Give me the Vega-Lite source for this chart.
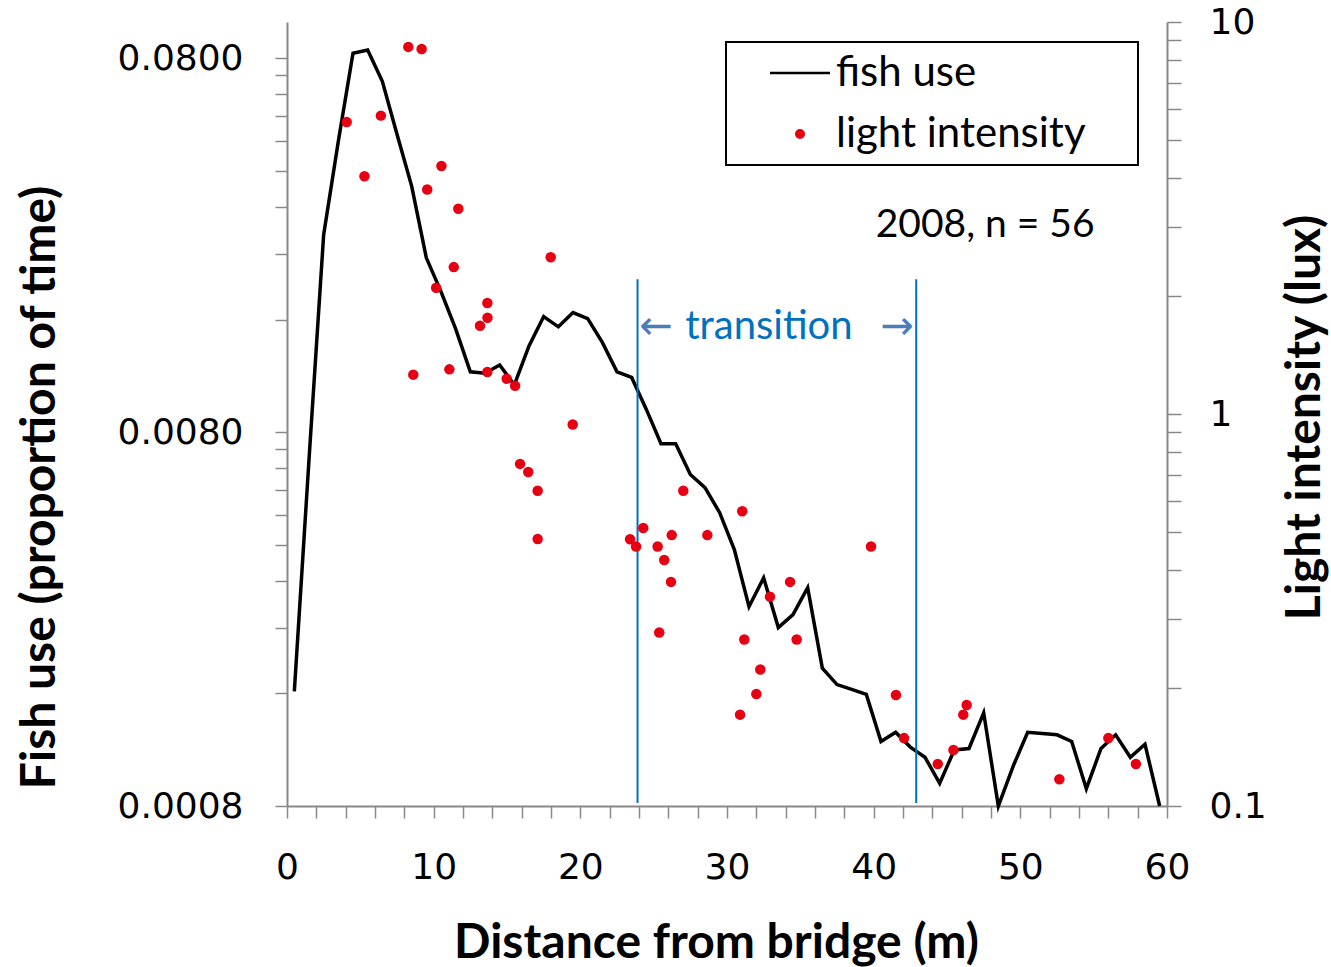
{
  "$schema": "https://vega.github.io/schema/vega-lite/v6.json",
  "width": 880,
  "height": 784,
  "autosize": {"type": "none"},
  "padding": {"left": 287, "top": 22, "right": 164, "bottom": 161},
  "background": "white",
  "config": {
    "view": {"stroke": null},
    "legend": {"strokeWidth": 2},
    "axis": {
      "domainColor": "#888888", "domainWidth": 2,
      "tickColor": "#888888", "tickWidth": 1.5,
      "labelColor": "black", "labelFont": "DejaVu Sans", "labelFontSize": 36,
      "titleFont": "Lato", "titleFontWeight": "bold", "titleFontSize": 48, "titleColor": "black",
      "grid": false, "labelOverlap": false, "labelFlush": false, "tickCount": 100
    }
  },
  "datasets": {
    "fish": [
      {"distance": 0.5, "fish_use": 0.00162}, {"distance": 1.5, "fish_use": 0.00675},
      {"distance": 2.5, "fish_use": 0.0270}, {"distance": 3.5, "fish_use": 0.0480},
      {"distance": 4.5, "fish_use": 0.0825}, {"distance": 5.5, "fish_use": 0.0841},
      {"distance": 6.5, "fish_use": 0.0694}, {"distance": 7.5, "fish_use": 0.0501},
      {"distance": 8.5, "fish_use": 0.0364}, {"distance": 9.5, "fish_use": 0.0234},
      {"distance": 10.5, "fish_use": 0.0190}, {"distance": 11.5, "fish_use": 0.0151},
      {"distance": 12.5, "fish_use": 0.0116}, {"distance": 13.5, "fish_use": 0.0115},
      {"distance": 14.5, "fish_use": 0.0121}, {"distance": 15.5, "fish_use": 0.0107},
      {"distance": 16.5, "fish_use": 0.0136}, {"distance": 17.5, "fish_use": 0.0163},
      {"distance": 18.5, "fish_use": 0.0153}, {"distance": 19.5, "fish_use": 0.0167},
      {"distance": 20.5, "fish_use": 0.0161}, {"distance": 21.5, "fish_use": 0.0139},
      {"distance": 22.5, "fish_use": 0.0116}, {"distance": 23.5, "fish_use": 0.0112},
      {"distance": 24.5, "fish_use": 0.0092}, {"distance": 25.5, "fish_use": 0.00745},
      {"distance": 26.5, "fish_use": 0.00745}, {"distance": 27.5, "fish_use": 0.00616},
      {"distance": 28.5, "fish_use": 0.00568}, {"distance": 29.5, "fish_use": 0.00487},
      {"distance": 30.5, "fish_use": 0.00388}, {"distance": 31.5, "fish_use": 0.00273},
      {"distance": 32.5, "fish_use": 0.00326}, {"distance": 33.5, "fish_use": 0.00240},
      {"distance": 34.5, "fish_use": 0.00260}, {"distance": 35.5, "fish_use": 0.00307},
      {"distance": 36.5, "fish_use": 0.00187}, {"distance": 37.5, "fish_use": 0.00169},
      {"distance": 38.5, "fish_use": 0.00164}, {"distance": 39.5, "fish_use": 0.00159},
      {"distance": 40.5, "fish_use": 0.00119}, {"distance": 41.5, "fish_use": 0.00126},
      {"distance": 42.5, "fish_use": 0.00115}, {"distance": 43.5, "fish_use": 0.00108},
      {"distance": 44.5, "fish_use": 0.00092}, {"distance": 45.5, "fish_use": 0.00113},
      {"distance": 46.5, "fish_use": 0.00114}, {"distance": 47.5, "fish_use": 0.00142},
      {"distance": 48.5, "fish_use": 0.00080}, {"distance": 49.5, "fish_use": 0.00102},
      {"distance": 50.5, "fish_use": 0.00126}, {"distance": 51.5, "fish_use": 0.00125},
      {"distance": 52.5, "fish_use": 0.00124}, {"distance": 53.5, "fish_use": 0.00119},
      {"distance": 54.5, "fish_use": 0.00089}, {"distance": 55.5, "fish_use": 0.00114},
      {"distance": 56.5, "fish_use": 0.00124}, {"distance": 57.5, "fish_use": 0.00108},
      {"distance": 58.5, "fish_use": 0.00117}, {"distance": 59.5, "fish_use": 0.00080}
    ],
    "light": [
      {"distance": 4.07, "lux": 5.56, "series": "light intensity"},
      {"distance": 5.28, "lux": 4.04, "series": "light intensity"},
      {"distance": 6.40, "lux": 5.77, "series": "light intensity"},
      {"distance": 8.27, "lux": 8.64, "series": "light intensity"},
      {"distance": 9.18, "lux": 8.53, "series": "light intensity"},
      {"distance": 9.56, "lux": 3.74, "series": "light intensity"},
      {"distance": 10.17, "lux": 2.10, "series": "light intensity"},
      {"distance": 10.53, "lux": 4.29, "series": "light intensity"},
      {"distance": 11.37, "lux": 2.37, "series": "light intensity"},
      {"distance": 11.68, "lux": 3.34, "series": "light intensity"},
      {"distance": 8.61, "lux": 1.26, "series": "light intensity"},
      {"distance": 11.07, "lux": 1.30, "series": "light intensity"},
      {"distance": 13.16, "lux": 1.68, "series": "light intensity"},
      {"distance": 13.67, "lux": 1.76, "series": "light intensity"},
      {"distance": 13.66, "lux": 1.92, "series": "light intensity"},
      {"distance": 13.66, "lux": 1.28, "series": "light intensity"},
      {"distance": 14.98, "lux": 1.23, "series": "light intensity"},
      {"distance": 15.55, "lux": 1.18, "series": "light intensity"},
      {"distance": 17.98, "lux": 2.51, "series": "light intensity"},
      {"distance": 19.48, "lux": 0.94, "series": "light intensity"},
      {"distance": 15.89, "lux": 0.746, "series": "light intensity"},
      {"distance": 16.45, "lux": 0.711, "series": "light intensity"},
      {"distance": 17.09, "lux": 0.637, "series": "light intensity"},
      {"distance": 17.09, "lux": 0.480, "series": "light intensity"},
      {"distance": 27.02, "lux": 0.637, "series": "light intensity"},
      {"distance": 31.04, "lux": 0.565, "series": "light intensity"},
      {"distance": 24.29, "lux": 0.512, "series": "light intensity"},
      {"distance": 23.39, "lux": 0.479, "series": "light intensity"},
      {"distance": 23.80, "lux": 0.459, "series": "light intensity"},
      {"distance": 26.23, "lux": 0.491, "series": "light intensity"},
      {"distance": 28.66, "lux": 0.491, "series": "light intensity"},
      {"distance": 25.27, "lux": 0.459, "series": "light intensity"},
      {"distance": 25.72, "lux": 0.424, "series": "light intensity"},
      {"distance": 26.18, "lux": 0.373, "series": "light intensity"},
      {"distance": 39.82, "lux": 0.459, "series": "light intensity"},
      {"distance": 34.30, "lux": 0.373, "series": "light intensity"},
      {"distance": 32.93, "lux": 0.342, "series": "light intensity"},
      {"distance": 25.38, "lux": 0.277, "series": "light intensity"},
      {"distance": 31.18, "lux": 0.266, "series": "light intensity"},
      {"distance": 34.75, "lux": 0.266, "series": "light intensity"},
      {"distance": 32.27, "lux": 0.223, "series": "light intensity"},
      {"distance": 32.00, "lux": 0.193, "series": "light intensity"},
      {"distance": 30.89, "lux": 0.171, "series": "light intensity"},
      {"distance": 41.52, "lux": 0.192, "series": "light intensity"},
      {"distance": 42.07, "lux": 0.149, "series": "light intensity"},
      {"distance": 46.34, "lux": 0.181, "series": "light intensity"},
      {"distance": 46.11, "lux": 0.171, "series": "light intensity"},
      {"distance": 45.44, "lux": 0.139, "series": "light intensity"},
      {"distance": 44.37, "lux": 0.128, "series": "light intensity"},
      {"distance": 52.66, "lux": 0.117, "series": "light intensity"},
      {"distance": 56.00, "lux": 0.149, "series": "light intensity"},
      {"distance": 57.88, "lux": 0.128, "series": "light intensity"}
    ],
    "bounds": [
      {"distance": 23.9, "fish_use": 0.0205, "fish_low": 0.000815},
      {"distance": 42.9, "fish_use": 0.0205, "fish_low": 0.000815}
    ],
    "notes": [
      {"distance": 47.6, "fish_use": 0.0286, "label": "2008, n = 56", "kind": "note"},
      {"distance": 32.86, "fish_use": 0.01524, "label": "transition", "kind": "transition"},
      {"distance": 25.16, "fish_use": 0.01524, "label": "←", "kind": "arrow"},
      {"distance": 41.6, "fish_use": 0.01524, "label": "→", "kind": "arrow"}
    ]
  },
  "layer": [
    {
      "layer": [
        {
          "data": {"name": "fish"},
          "mark": {"type": "line", "color": "black", "strokeWidth": 3.5},
          "encoding": {
            "x": {
              "field": "distance", "type": "quantitative",
              "scale": {"domain": [0, 60], "nice": false},
              "axis": {
                "values": [0,2,4,6,8,10,12,14,16,18,20,22,24,26,28,30,32,34,36,38,40,42,44,46,48,50,52,54,56,58,60],
                "labelExpr": "datum.value % 10 === 0 ? format(datum.value, 'd') : ''",
                "tickSize": 12, "labelPadding": 32, "tickCount": 100,
                "title": "Distance from bridge (m)",
                "titleX": 429, "titleY": 137, "titleBaseline": "middle", "titleAlign": "center"
              }
            },
            "y": {
              "field": "fish_use", "type": "quantitative",
              "scale": {"type": "log", "domain": [0.0008, 0.1], "nice": false},
              "axis": {
                "orient": "left",
                "values": [0.0008,0.0016,0.0024,0.0032,0.004,0.0048,0.0056,0.0064,0.0072,0.008,0.016,0.024,0.032,0.04,0.048,0.056,0.064,0.072,0.08],
                "labelExpr": "datum.value == 0.0008 ? '0.0008' : datum.value == 0.008 ? '0.0080' : datum.value == 0.08 ? '0.0800' : ''",
                "tickSize": 12, "labelPadding": 32, "tickCount": 100,
                "title": "Fish use (proportion of time)",
                "titleAngle": -90, "titleX": -247, "titleY": 465, "titleBaseline": "middle", "titleAlign": "center"
              }
            }
          }
        },
        {
          "data": {"name": "bounds"},
          "mark": {"type": "rule", "color": "#0070c0", "strokeWidth": 2},
          "encoding": {
            "x": {"field": "distance", "type": "quantitative"},
            "y": {"field": "fish_use", "type": "quantitative"},
            "y2": {"field": "fish_low"}
          }
        },
        {
          "data": {"name": "notes"},
          "transform": [{"filter": "datum.kind === 'note'"}],
          "mark": {"type": "text", "font": "Lato", "fontSize": 39, "color": "black", "align": "center", "baseline": "middle"},
          "encoding": {
            "x": {"field": "distance", "type": "quantitative"},
            "y": {"field": "fish_use", "type": "quantitative"},
            "text": {"field": "label"}
          }
        },
        {
          "data": {"name": "notes"},
          "transform": [{"filter": "datum.kind === 'transition'"}],
          "mark": {"type": "text", "font": "Lato", "fontSize": 40, "color": "#0070c0", "align": "center", "baseline": "middle"},
          "encoding": {
            "x": {"field": "distance", "type": "quantitative"},
            "y": {"field": "fish_use", "type": "quantitative"},
            "text": {"field": "label"}
          }
        },
        {
          "data": {"name": "notes"},
          "transform": [{"filter": "datum.kind === 'arrow'"}],
          "mark": {"type": "text", "font": "DejaVu Sans", "fontSize": 40, "color": "#4a7ebb", "align": "center", "baseline": "middle"},
          "encoding": {
            "x": {"field": "distance", "type": "quantitative"},
            "y": {"field": "fish_use", "type": "quantitative"},
            "text": {"field": "label"}
          }
        }
      ]
    },
    {
      "data": {"name": "light"},
      "mark": {"type": "point", "filled": true, "size": 110, "opacity": 1, "strokeWidth": 0},
      "encoding": {
        "x": {"field": "distance", "type": "quantitative"},
        "y": {
          "field": "lux", "type": "quantitative",
          "scale": {"type": "log", "domain": [0.1, 10], "nice": false},
          "axis": {
            "orient": "right",
            "values": [0.1,0.2,0.3,0.4,0.5,0.6,0.7,0.8,0.9,1,2,3,4,5,6,7,8,9,10],
            "labelExpr": "datum.value == 0.1 ? '0.1' : datum.value == 1 ? '1' : datum.value == 10 ? '10' : ''",
            "tickSize": 14, "labelPadding": 28, "tickCount": 100,
            "title": "Light intensity (lux)",
            "titleAngle": -90, "titleX": 138, "titleY": 395, "titleBaseline": "middle", "titleAlign": "center"
          }
        },
        "color": {
          "field": "series", "type": "nominal",
          "scale": {"domain": ["fish use", "light intensity"], "range": ["black", "#e60012"]},
          "legend": {
            "title": null, "orient": "none", "legendX": 439, "legendY": 20,
            "padding": 10, "strokeColor": "black",
            "labelFont": "Lato", "labelFontSize": 42, "labelColor": "black", "labelLimit": 1000,
            "symbolSize": 100, "symbolOffset": 43, "labelOffset": 15, "rowPadding": 19,
            "symbolStrokeWidth": 0,
            "labelExpr": "datum.label + '\u00a0\u00a0\u00a0\u00a0\u200b'"
          }
        },
        "shape": {
          "field": "series", "type": "nominal",
          "scale": {"domain": ["fish use", "light intensity"], "range": ["M-6,-0.25H6V0.25H-6Z", "circle"]},
          "legend": {
            "title": null, "orient": "none", "legendX": 439, "legendY": 20,
            "padding": 10, "strokeColor": "black",
            "labelFont": "Lato", "labelFontSize": 42, "labelColor": "black", "labelLimit": 1000,
            "symbolSize": 100, "symbolOffset": 43, "labelOffset": 15, "rowPadding": 19,
            "symbolStrokeWidth": 0,
            "labelExpr": "datum.label + '\u00a0\u00a0\u00a0\u00a0\u200b'"
          }
        }
      }
    }
  ],
  "resolve": {"scale": {"y": "independent"}}
}
